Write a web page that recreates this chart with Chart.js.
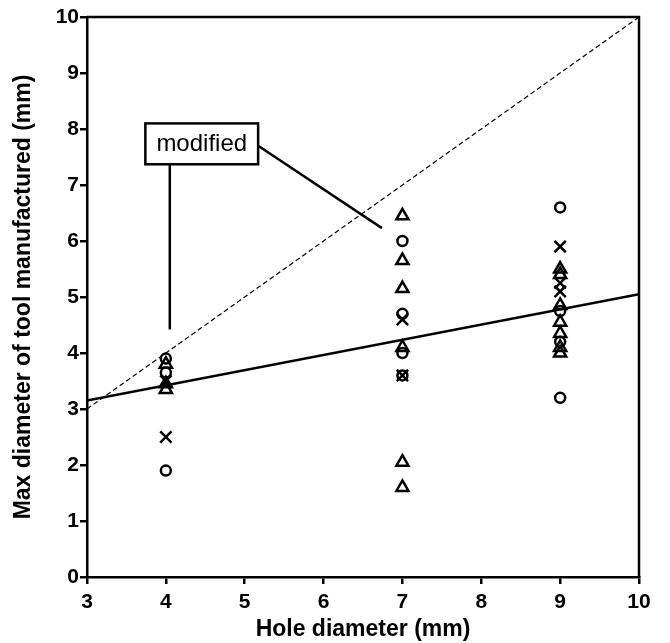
<!DOCTYPE html>
<html>
<head>
<meta charset="utf-8">
<script src="https://cdn.jsdelivr.net/npm/chart.js@4.4.0/dist/chart.umd.min.js"></script>
<style>
  html, body { margin: 0; padding: 0; background: #fff; }
  #wrap { width: 670px; height: 643px; }
</style>
</head>
<body>
<div id="wrap"><canvas id="chartCanvas" width="670" height="643"></canvas></div>
<script>
// ---- data ----
const circleX = [4, 4, 4, 7, 7, 7, 7, 9, 9, 9, 9];
const circleY = [3.9, 3.65, 1.9, 6.0, 4.7, 4.0, 3.6, 6.6, 4.75, 4.2, 3.2];

const triangleX = [4, 4, 4, 7, 7, 7, 7, 7, 7, 9, 9, 9, 9, 9, 9, 9];
const triangleY = [3.8, 3.45, 3.35, 6.45, 5.65, 5.15, 4.1, 2.05, 1.6, 5.5, 5.4, 4.85, 4.55, 4.35, 4.1, 4.0];

const crossX = [4, 4, 7, 7, 9, 9, 9];
const crossY = [3.5, 2.5, 4.6, 3.6, 5.9, 5.25, 5.1];

const lineX = [3, 10];
const fitY = [3.15, 5.05];      // solid regression line
const identityY = [3, 10];      // dashed y = x line

const xTicks = [3, 4, 5, 6, 7, 8, 9, 10];
const yTicks = [0, 1, 2, 3, 4, 5, 6, 7, 8, 9, 10];

const noteText = "modified";
const noteBox = { x1: 3.74, x2: 5.17, y1: 8.1, y2: 7.37 };
const noteLines = [
  { x1: 4.05, y1: 7.37, x2: 4.05, y2: 4.42 },
  { x1: 5.17, y1: 7.7, x2: 6.74, y2: 6.23 }
];

function pts(xs, ys) {
  return xs.map((x, i) => ({ x: x, y: ys[i] }));
}

const FONT = "'Liberation Sans', Arial, Helvetica, sans-serif";

// frame + "modified" callout
const notePlugin = {
  id: "notes",
  afterDatasetsDraw(chart) {
    const c = chart.ctx;
    const xs = chart.scales.x;
    const ys = chart.scales.y;
    const a = chart.chartArea;

    c.save();
    c.strokeStyle = "#000";
    c.lineWidth = 2.5;
    c.beginPath();
    c.moveTo(a.left, a.top);
    c.lineTo(a.right, a.top);
    c.lineTo(a.right, a.bottom);
    c.stroke();

    noteLines.forEach(l => {
      c.beginPath();
      c.moveTo(xs.getPixelForValue(l.x1), ys.getPixelForValue(l.y1));
      c.lineTo(xs.getPixelForValue(l.x2), ys.getPixelForValue(l.y2));
      c.stroke();
    });

    const bx = xs.getPixelForValue(noteBox.x1);
    const by = ys.getPixelForValue(noteBox.y1);
    const bw = xs.getPixelForValue(noteBox.x2) - bx;
    const bh = ys.getPixelForValue(noteBox.y2) - by;
    c.fillStyle = "#fff";
    c.fillRect(bx, by, bw, bh);
    c.strokeRect(bx, by, bw, bh);

    c.fillStyle = "#000";
    c.font = "24px " + FONT;
    c.textAlign = "center";
    c.textBaseline = "middle";
    c.fillText(noteText, bx + bw / 2, by + bh / 2 + 1);
    c.restore();
  }
};

const markerBase = {
  type: "scatter",
  borderColor: "#000",
  backgroundColor: "rgba(0,0,0,0)",
  borderWidth: 2.5
};

new Chart(document.getElementById("chartCanvas").getContext("2d"), {
  type: "scatter",
  data: {
    datasets: [
      {
        type: "line",
        data: pts(lineX, identityY),
        borderColor: "#000",
        borderWidth: 1.2,
        borderDash: [5, 3],
        pointRadius: 0,
        fill: false
      },
      {
        type: "line",
        data: pts(lineX, fitY),
        borderColor: "#000",
        borderWidth: 2.5,
        pointRadius: 0,
        fill: false
      },
      Object.assign({}, markerBase, { data: pts(circleX, circleY), pointStyle: "circle", pointRadius: 5 }),
      Object.assign({}, markerBase, { data: pts(triangleX, triangleY), pointStyle: "triangle", pointRadius: 7 }),
      Object.assign({}, markerBase, { data: pts(crossX, crossY), pointStyle: "crossRot", pointRadius: 8 })
    ]
  },
  options: {
    responsive: false,
    animation: false,
    events: [],
    layout: { padding: { top: 17, right: 31, bottom: 0, left: 0 } },
    plugins: { legend: { display: false }, tooltip: { enabled: false } },
    scales: {
      x: {
        type: "linear",
        min: 3,
        max: 10,
        afterBuildTicks: s => { s.ticks = xTicks.map(v => ({ value: v })); },
        afterFit: s => { s.height = 66; },
        border: { color: "#000", width: 2.5 },
        grid: { drawOnChartArea: false, drawTicks: true, tickLength: 7, color: "#000", lineWidth: 2.5 },
        ticks: { color: "#000", padding: 6, font: { family: FONT, size: 21, weight: "bold" } },
        title: {
          display: true,
          text: "Hole diameter (mm)",
          color: "#000",
          padding: { top: 0, bottom: 0 },
          font: { family: FONT, size: 23, weight: "bold" }
        }
      },
      y: {
        type: "linear",
        min: 0,
        max: 10,
        afterBuildTicks: s => { s.ticks = yTicks.map(v => ({ value: v })); },
        afterFit: s => { s.width = 87; },
        border: { color: "#000", width: 2.5 },
        grid: { drawOnChartArea: false, drawTicks: true, tickLength: 7, color: "#000", lineWidth: 2.5 },
        ticks: { color: "#000", padding: 1, font: { family: FONT, size: 21, weight: "bold" } },
        title: {
          display: true,
          text: "Max diameter of tool manufactured (mm)",
          color: "#000",
          padding: { top: 10, bottom: 0 },
          font: { family: FONT, size: 23, weight: "bold" }
        }
      }
    }
  },
  plugins: [notePlugin]
});
</script>
</body>
</html>
